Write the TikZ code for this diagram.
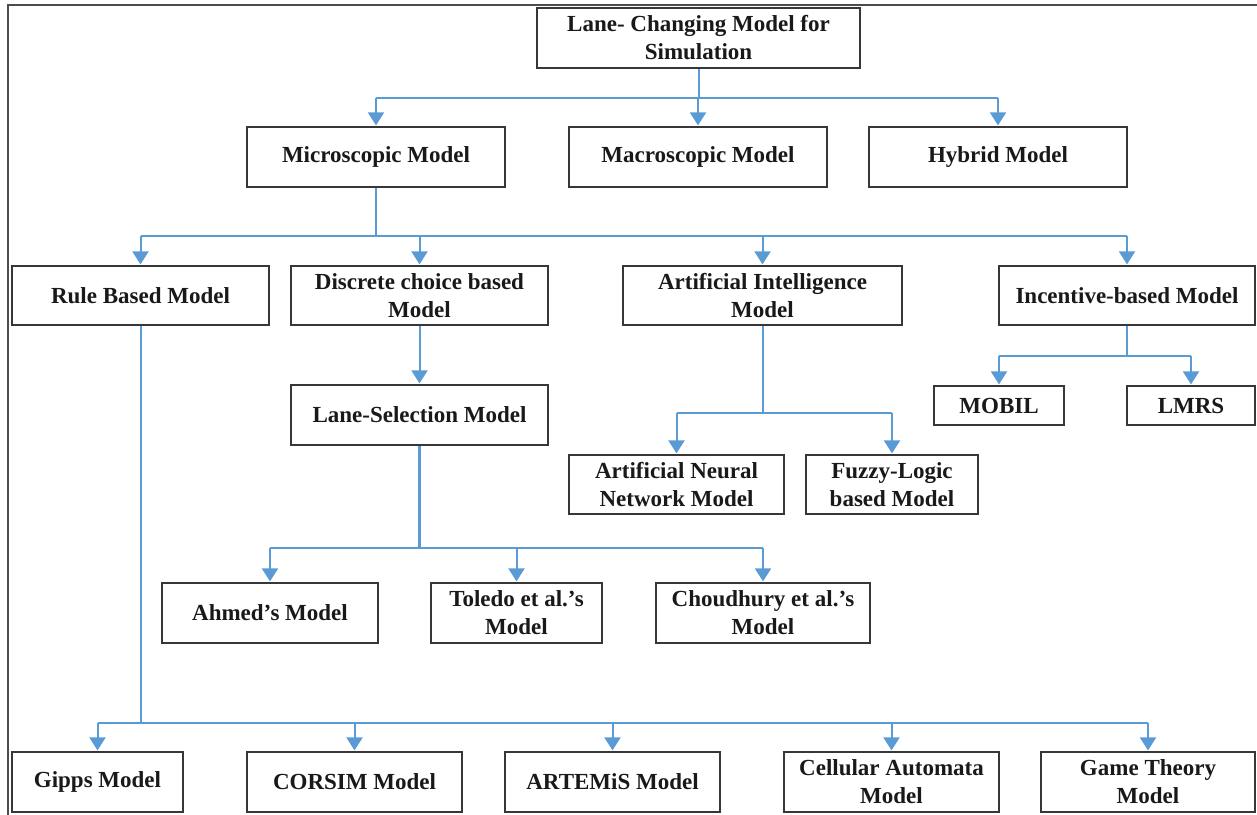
\documentclass[tikz,border=0pt]{standalone}
\usepackage{fontspec}
\setmainfont{Liberation Serif}
\usetikzlibrary{arrows.meta}
\definecolor{linkblue}{RGB}{91,155,213}
\definecolor{boxgray}{RGB}{55,55,55}
\definecolor{textdark}{RGB}{25,25,25}
\tikzset{
  box/.style={draw=boxgray, line width=2.2pt, fill=white, rectangle, inner sep=2pt,
    align=center, text=textdark, font=\fontsize{23}{28}\selectfont\bfseries},
  link/.style={draw=linkblue, line width=2pt},
  trunk/.style={draw=linkblue, line width=2.6pt},
  arr/.style={link, -{Triangle[length=13pt,width=16pt]}, shorten >=0.5pt},
  frameline/.style={draw=black!70, line width=1.5pt}
}
\begin{document}
\begin{tikzpicture}[x=1pt,y=-1pt]
\useasboundingbox (0,0) rectangle (1257,814);
% outer frame
\draw[frameline] (8,820) -- (8,5) -- (1262,5);

% level 0
\node[box, minimum width=323pt, minimum height=60pt] (top) at (698.5,38) {Lane- Changing Model for\\Simulation};
% level 1
\node[box, minimum width=258pt, minimum height=60pt] (micro)  at (376,157) {Microscopic Model};
\node[box, minimum width=258pt, minimum height=60pt] (macro)  at (698,157) {Macroscopic Model};
\node[box, minimum width=258pt, minimum height=60pt] (hybrid) at (998,157) {Hybrid Model};
% level 2
\node[box, minimum width=257pt, minimum height=59pt] (rule)     at (140.5,295.5) {Rule Based Model};
\node[box, minimum width=257pt, minimum height=59pt] (discrete) at (419.5,295.5) {Discrete choice based\\Model};
\node[box, minimum width=279pt, minimum height=59pt] (ai)       at (762.5,295.5) {Artificial Intelligence\\Model};
\node[box, minimum width=256pt, minimum height=59pt] (incent)   at (1127,295.5) {Incentive-based Model};
% level 3
\node[box, minimum width=257pt, minimum height=60pt] (lanesel) at (419.5,415) {Lane-Selection Model};
\node[box, minimum width=130pt, minimum height=39pt] (mobil)   at (999,405.5) {MOBIL};
\node[box, minimum width=128pt, minimum height=39pt] (lmrs)    at (1191,405.5) {LMRS};
\node[box, minimum width=215pt, minimum height=59pt] (ann)     at (676.5,484.5) {Artificial Neural\\Network Model};
\node[box, minimum width=172pt, minimum height=59pt] (fuzzy)   at (892,484.5) {Fuzzy-Logic\\based Model};
% level 4
\node[box, minimum width=216pt, minimum height=60pt] (ahmed)  at (270,613) {Ahmed's Model};
\node[box, minimum width=171pt, minimum height=60pt] (toledo) at (516.5,613) {Toledo et al.'s\\Model};
\node[box, minimum width=214pt, minimum height=60pt] (choud)  at (763,613) {Choudhury et al.'s\\Model};
% level 5
\node[box, minimum width=171pt, minimum height=60pt] (gipps)    at (97.5,782) {Gipps Model};
\node[box, minimum width=215pt, minimum height=60pt] (corsim)   at (354.5,782) {CORSIM Model};
\node[box, minimum width=215pt, minimum height=60pt] (artemis)  at (612.5,782) {ARTEMiS Model};
\node[box, minimum width=215pt, minimum height=60pt] (cellular) at (891.5,782) {Cellular Automata\\Model};
\node[box, minimum width=214pt, minimum height=60pt] (game)     at (1148,782) {Game Theory\\Model};

% junction heights of the branch bars
\coordinate (b0) at (0,98);
\coordinate (b1) at (0,236);
\coordinate (b2) at (0,548);
\coordinate (b3) at (0,413);
\coordinate (b4) at (0,356);
\coordinate (b5) at (0,723);

% top -> level 1
\draw[link] (top.south) -- (top.south |- b0);
\draw[link] (micro.north |- b0) -- (hybrid.north |- b0);
\foreach \n in {micro,macro,hybrid} \draw[arr] (\n.north |- b0) -- (\n.north);

% microscopic -> level 2
\draw[trunk] (micro.south) -- (micro.south |- b1);
\draw[link] (rule.north |- b1) -- (incent.north |- b1);
\foreach \n in {rule,discrete,ai,incent} \draw[arr] (\n.north |- b1) -- (\n.north);

% discrete choice -> lane selection
\draw[arr] (discrete.south) -- (lanesel.north);

% lane selection -> level 4
\draw[trunk] (lanesel.south) -- (lanesel.south |- b2);
\draw[link] (ahmed.north |- b2) -- (choud.north |- b2);
\foreach \n in {ahmed,toledo,choud} \draw[arr] (\n.north |- b2) -- (\n.north);

% artificial intelligence -> ANN, fuzzy
\draw[link] (ai.south) -- (ai.south |- b3);
\draw[link] (ann.north |- b3) -- (fuzzy.north |- b3);
\foreach \n in {ann,fuzzy} \draw[arr] (\n.north |- b3) -- (\n.north);

% incentive -> MOBIL, LMRS
\draw[link] (incent.south) -- (incent.south |- b4);
\draw[link] (mobil.north |- b4) -- (lmrs.north |- b4);
\foreach \n in {mobil,lmrs} \draw[arr] (\n.north |- b4) -- (\n.north);

% rule based -> bottom row
\draw[link] (rule.south) -- (rule.south |- b5);
\draw[trunk] (gipps.north |- b5) -- (game.north |- b5);
\foreach \n in {gipps,corsim,artemis,cellular,game} \draw[arr] (\n.north |- b5) -- (\n.north);
\end{tikzpicture}
\end{document}
